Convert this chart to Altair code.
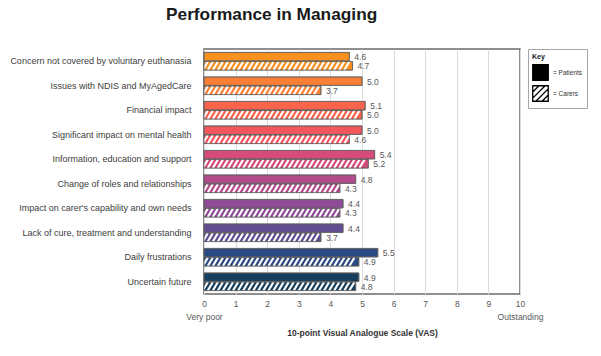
import altair as alt
import pandas as pd

categories = [
    "Concern not covered by voluntary euthanasia",
    "Issues with NDIS and MyAgedCare",
    "Financial impact",
    "Significant impact on mental health",
    "Information, education and support",
    "Change of roles and relationships",
    "Impact on carer's capability and own needs",
    "Lack of cure, treatment and understanding",
    "Daily frustrations",
    "Uncertain future",
]
patients = [4.6, 5.0, 5.1, 5.0, 5.4, 4.8, 4.4, 4.4, 5.5, 4.9]
carers = [4.7, 3.7, 5.0, 4.6, 5.2, 4.3, 4.3, 3.7, 4.9, 4.8]
bar_colors = ["#f8911f", "#fa7f35", "#f7634b", "#f5565e", "#d64b7b",
              "#b24a8b", "#8f4b97", "#604c90", "#2c4a82", "#173e5c"]
series = ["Patients", "Carers"]
x_ticks = [0, 1, 2, 3, 4, 5, 6, 7, 8, 9, 10]
low_anchor = "Very poor"
high_anchor = "Outstanding"
title_text = "Performance in Managing"
x_title = "10-point Visual Analogue Scale (VAS)"

rows = []
for c, p, k in zip(categories, patients, carers):
    rows.append({"category": c, "series": "Patients", "value": p})
    rows.append({"category": c, "series": "Carers", "value": k})
df = pd.DataFrame(rows)

FONT = "Liberation Sans"
carer_path = ("M-1,-1H1V1H-1Z M-1,-0.2L-0.2,-1 M-1,0.6L0.6,-1 "
              "M-0.6,1L1,-0.6 M0.2,1L1,0.2")

y_axis = alt.Axis(title=None, ticks=False, domain=False,
                  labelPadding=13, labelFontSize=9, labelFont=FONT,
                  labelColor="#404040", labelLimit=300)
y_scale = alt.Scale(paddingInner=0.28, paddingOuter=0.14)


def y_enc():
    return alt.Y("category:N", sort=categories, scale=y_scale, axis=y_axis)


def yoff_enc():
    return alt.YOffset("series:N", sort=series,
                       scale=alt.Scale(domain=series, paddingInner=0.07))


label_expr = ("datum.value == 0 ? ['0', '" + low_anchor + "'] : datum.value == 10 ? ['10', '"
              + high_anchor + "'] : datum.label")
x_axis = alt.Axis(values=x_ticks, title=x_title, grid=True,
                  gridColor="#dcdcdc", gridWidth=1, ticks=False,
                  domain=False, labelPadding=5, labelFontSize=8.5,
                  labelFont=FONT, labelColor="#595959",
                  labelExpr=label_expr, labelLineHeight=13,
                  labelOverlap=False, labelFlush=False,
                  titleFont=FONT, titleFontSize=8.5,
                  titleFontWeight="bold", titleColor="#333333",
                  titlePadding=8)
x_scale = alt.Scale(domain=[0, 10], nice=False)


def x_enc(field="value"):
    return alt.X(field + ":Q", scale=x_scale, axis=x_axis, title=x_title)


base = alt.Chart(df)

bars = base.mark_bar(stroke="#5e5e5e", strokeWidth=0.7).encode(
    x=x_enc(), y=y_enc(), yOffset=yoff_enc(),
    color=alt.Color("category:N", scale=alt.Scale(domain=categories, range=bar_colors),
                    legend=None),
)

stripes = base.transform_filter(
    "datum.series == 'Carers'"
).transform_calculate(
    pos="sequence(0.04, datum.value - 0.07, 0.16)"
).transform_flatten(["pos"]).mark_point(
    shape="M-0.6,1L0.6,-1", filled=False, stroke="white", strokeWidth=2.1,
    size=70, opacity=1, clip=True,
).encode(
    x=x_enc("pos"), y=y_enc(), yOffset=yoff_enc(),
)

outline = base.mark_bar(fillOpacity=0, stroke="#5e5e5e", strokeWidth=0.7).encode(
    x=x_enc(), y=y_enc(), yOffset=yoff_enc(),
)

labels = base.mark_text(align="left", baseline="middle", dx=5, dy=0.5,
                        fontSize=8.5, font=FONT, color="#595959").encode(
    x=x_enc(), y=y_enc(), yOffset=yoff_enc(),
    text=alt.Text("value:Q", format=".1f"),
)

leg = alt.Legend(title="Key", orient="right", offset=8, padding=4,
                 strokeColor="#a6a6a6", fillColor="white",
                 titleFontSize=7, titleFont=FONT, titleFontWeight="bold",
                 titleColor="#222222", titlePadding=4,
                 labelFontSize=6.5, labelFont=FONT, labelColor="#333333",
                 labelExpr="'= ' + datum.label", symbolSize=240,
                 symbolStrokeWidth=1.3, symbolOpacity=1,
                 rowPadding=0, labelOffset=4)

key = base.transform_filter("false").mark_point(
    filled=True, strokeWidth=1.3, size=240, opacity=1
).encode(
    shape=alt.Shape("series:N", scale=alt.Scale(domain=series, range=["square", carer_path]),
                    legend=leg),
    fill=alt.Fill("series:N", scale=alt.Scale(domain=series, range=["black", "white"]),
                  legend=leg),
    stroke=alt.Stroke("series:N", scale=alt.Scale(domain=series, range=["black", "black"]),
                      legend=leg),
)

chart = alt.layer(bars, stripes, outline, labels, key).properties(
    width=316, height=245,
    autosize="none",
    padding={"left": 204, "top": 49, "right": 81, "bottom": 62},
    title=alt.TitleParams(title_text, anchor="start", frame="group", dx=-38,
                          offset=25, font=FONT, fontSize=17.3, fontWeight="bold",
                          color="#1a1a1a"),
).configure(
    background="white"
).configure_view(
    stroke="#6a6a6a", strokeWidth=1.5
)

chart.save("out.html", embed_options={"renderer": "svg", "actions": False})
